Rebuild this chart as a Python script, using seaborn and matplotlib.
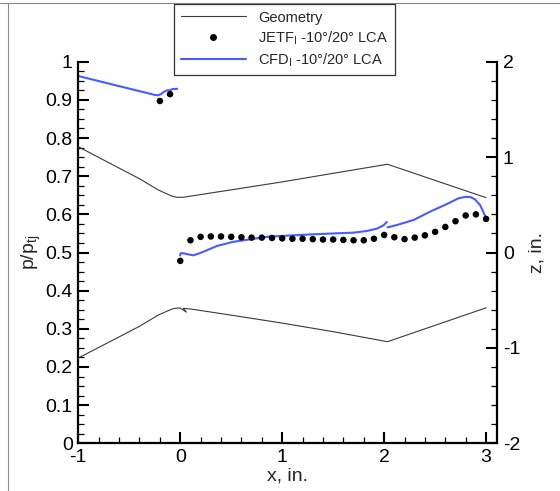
import numpy as np
import pandas as pd
import matplotlib
matplotlib.use("Agg")
import matplotlib.pyplot as plt
from matplotlib.ticker import MultipleLocator, FixedLocator, FixedFormatter
from matplotlib.lines import Line2D
import seaborn as sns

# ---------------- data ----------------
# Geometry (right axis, z in inches)
geo_upper_x = [-1.0, -0.6, -0.394, -0.215, -0.08, -0.03, 0.03, 0.489, 1.0, 1.5, 2.033, 2.844, 3.0]
geo_upper_z = [1.109, 0.885, 0.770, 0.655, 0.590, 0.579, 0.579, 0.655, 0.74, 0.83, 0.925, 0.631, 0.575]
geo_lower_x = [-1.0, -0.6, -0.394, -0.215, -0.08, -0.03, 0.0, 0.06, 0.03, 0.1, 0.489, 1.0, 1.5, 2.033, 2.844, 3.0]
geo_lower_z = [-1.106, -0.885, -0.770, -0.655, -0.592, -0.582, -0.582, -0.625, -0.585, -0.592, -0.655, -0.74, -0.83, -0.935, -0.637, -0.58]

# JETF experimental data (left axis, p/ptj)
jetf_x = [-0.2, -0.1,
          0.0, 0.1, 0.2, 0.3, 0.4, 0.5, 0.6, 0.7, 0.8, 0.9, 1.0,
          1.1, 1.2, 1.3, 1.4, 1.5, 1.6, 1.7, 1.8, 1.9, 2.0,
          2.1, 2.2, 2.3, 2.4, 2.5, 2.6, 2.7, 2.8, 2.9, 3.0]
jetf_p = [0.897, 0.915,
          0.478, 0.532, 0.541, 0.542, 0.542, 0.541, 0.540, 0.539, 0.539, 0.538, 0.537,
          0.536, 0.536, 0.535, 0.534, 0.534, 0.533, 0.532, 0.532, 0.536, 0.546,
          0.540, 0.535, 0.539, 0.545, 0.554, 0.567, 0.582, 0.597, 0.600, 0.588]

# CFD (left axis) - three separate segments
cfd1_x = [-1.0, -0.6, -0.25, -0.22, -0.19, -0.16, -0.13, -0.10, -0.08, -0.03]
cfd1_p = [0.9625, 0.936, 0.913, 0.912, 0.915, 0.921, 0.925, 0.925, 0.928, 0.929]
cfd2_x = [-0.002, 0.005, 0.03, 0.08, 0.128, 0.18, 0.227, 0.358, 0.521, 0.685, 0.866,
          1.176, 1.503, 1.70, 1.83, 1.928, 1.993, 2.026]
cfd2_p = [0.492, 0.498, 0.498, 0.495, 0.4927, 0.497, 0.502, 0.517, 0.528, 0.5346, 0.5415,
          0.546, 0.550, 0.552, 0.5563, 0.5625, 0.571, 0.580]
cfd3_x = [2.033, 2.125, 2.287, 2.451, 2.615, 2.729, 2.80, 2.85, 2.892, 2.941, 2.99]
cfd3_p = [0.566, 0.572, 0.585, 0.607, 0.627, 0.642, 0.646, 0.645, 0.639, 0.6245, 0.596]

left_ticks = [0, 0.1, 0.2, 0.3, 0.4, 0.5, 0.6, 0.7, 0.8, 0.9, 1.0]
left_labels = ["0", "0.1", "0.2", "0.3", "0.4", "0.5", "0.6", "0.7", "0.8", "0.9", "1"]
right_ticks = [-2, -1, 0, 1, 2]
right_labels = ["-2", "-1", "0", "1", "2"]
x_ticks = [-1, 0, 1, 2, 3]
x_labels = ["-1", "0", "1", "2", "3"]

legend_labels = ["Geometry",
                 "JETF$_\\mathregular{I}$ -10°/20° LCA",
                 "CFD$_\\mathregular{I}$ -10°/20° LCA"]

# ---------------- style ----------------
sns.set_theme(style="white")
plt.rcParams["font.family"] = ["Liberation Sans", "DejaVu Sans"]
plt.rcParams["axes.unicode_minus"] = False
plt.rcParams["mathtext.fontset"] = "custom"
plt.rcParams["mathtext.rm"] = "Liberation Sans"

BLUE = "#4a5cff"
GEO = "#3a3a3a"
FS = 14

fig = plt.figure(figsize=(5.6, 4.91), dpi=100)
ax = fig.add_axes([78.3 / 560, 1 - 443.3 / 491, (497.3 - 78.3) / 560, (443.3 - 61.7) / 491])
ax2 = ax.twinx()

# geometry on right axis
sns.lineplot(data=pd.DataFrame({"x": geo_upper_x, "z": geo_upper_z}), x="x", y="z",
             ax=ax2, sort=False, estimator=None, color=GEO, linewidth=0.8)
sns.lineplot(data=pd.DataFrame({"x": geo_lower_x, "z": geo_lower_z}), x="x", y="z",
             ax=ax2, sort=False, estimator=None, color=GEO, linewidth=0.8)

# CFD lines
for cx, cp in [(cfd1_x, cfd1_p), (cfd2_x, cfd2_p), (cfd3_x, cfd3_p)]:
    sns.lineplot(data=pd.DataFrame({"x": cx, "p": cp}), x="x", y="p", ax=ax,
                 sort=False, estimator=None, color=BLUE, linewidth=1.5)

# JETF points
sns.scatterplot(data=pd.DataFrame({"x": jetf_x, "p": jetf_p}), x="x", y="p", ax=ax,
                color="black", s=22, edgecolor="none", zorder=5)

# ---------------- axes ----------------
ax.set_xlim(-1, 3.11)
ax.set_ylim(0, 1)
ax2.set_ylim(-2, 2)

ax.xaxis.set_major_locator(FixedLocator(x_ticks))
ax.xaxis.set_major_formatter(FixedFormatter(x_labels))
ax.xaxis.set_minor_locator(MultipleLocator(0.2))
ax.yaxis.set_major_locator(FixedLocator(left_ticks))
ax.yaxis.set_major_formatter(FixedFormatter(left_labels))
ax.yaxis.set_minor_locator(MultipleLocator(0.025))
ax2.yaxis.set_major_locator(FixedLocator(right_ticks))
ax2.yaxis.set_major_formatter(FixedFormatter(right_labels))
ax2.yaxis.set_minor_locator(MultipleLocator(0.2))

for a in (ax, ax2):
    a.tick_params(which="major", direction="in", length=8, width=1.5, labelsize=FS, colors="black", pad=4)
    a.tick_params(which="minor", direction="in", length=4.5, width=0.9, colors="black")
ax.tick_params(axis="y", which="both", left=True, right=False)
ax.tick_params(axis="x", which="both", bottom=True, top=False)
ax2.tick_params(axis="y", which="both", right=True, left=False)

for s in ["top", "right"]:
    ax.spines[s].set_visible(False)
for s in ["left", "bottom"]:
    ax.spines[s].set_linewidth(1.6)
    ax.spines[s].set_color("black")
for s in ["top", "left", "bottom"]:
    ax2.spines[s].set_visible(False)
ax2.spines["right"].set_linewidth(1.6)
ax2.spines["right"].set_color("black")

ax.set_xlabel("x, in.", fontsize=FS, labelpad=1)
ax.set_ylabel("p/p$_\\mathregular{tj}$", fontsize=FS, labelpad=2)
ax2.set_ylabel("z, in.", fontsize=FS, labelpad=6, rotation=90)
ax.grid(False)
ax2.grid(False)

# legend
handles = [Line2D([], [], color=GEO, linewidth=0.8),
           Line2D([], [], color="black", marker="o", markersize=4, linestyle="none"),
           Line2D([], [], color=BLUE, linewidth=1.5)]
leg = fig.legend(handles, legend_labels, loc="upper left",
                 bbox_to_anchor=(174 / 560, 1 - 4 / 491), fontsize=10.5,
                 frameon=True, fancybox=False, framealpha=1, edgecolor="#333333",
                 handlelength=4.5, handletextpad=0.8, labelspacing=0.3,
                 borderpad=0.45, borderaxespad=0)
leg.get_frame().set_linewidth(0.9)

# page border lines (cropped document frame)
fig.add_artist(Line2D([8 / 560, 8 / 560], [0, 1 - 3 / 491], transform=fig.transFigure,
                      color="#888888", linewidth=0.8))
fig.add_artist(Line2D([0, 1], [1 - 3 / 491, 1 - 3 / 491], transform=fig.transFigure,
                      color="#888888", linewidth=0.8))

fig.savefig("out.png", dpi=100)
